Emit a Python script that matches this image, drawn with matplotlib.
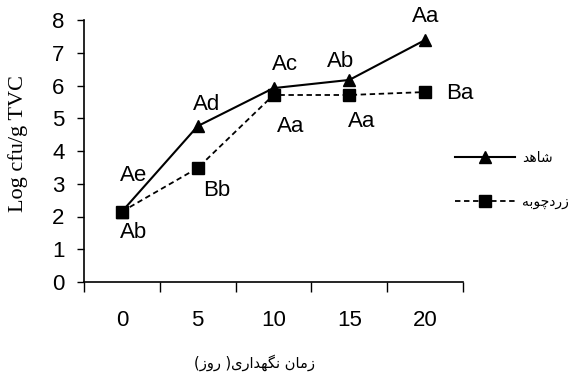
import matplotlib
matplotlib.use("Agg")
import matplotlib.pyplot as plt
import numpy as np

# روزهای نگهداری و مقادیر Log cfu/g TVC
days = ["0", "5", "10", "15", "20"]
control = [2.15, 4.76, 5.92, 6.17, 7.39]
turmeric = [2.15, 3.48, 5.71, 5.71, 5.80]
control_letters = ["Ae", "Ad", "Ac", "Ab", "Aa"]
turmeric_letters = ["Ab", "Bb", "Aa", "Aa", "Ba"]

# Persian labels in presentation forms (visual order) because matplotlib has no shaping
label_control = "\uFEAA\uFEEB\uFE8E\uFEB7"                      # شاهد
label_turmeric = "\uFEEA\uFE91\uFEEE\uFB7C\uFEA9\uFEAD\uFEAF"     # زردچوبه
xlabel = ("(\uFEAF\uFEED\uFEAD )" "\uFBFC\uFEAD\uFE8D\uFEAA\uFEEC\uFB95\uFEE7"
          " \uFEE5\uFE8E\uFEE3\uFEAF")                           # زمان نگهداری( روز)

plt.rcParams['font.family'] = ['Liberation Sans', 'DejaVu Sans']

fig = plt.figure(figsize=(5.79, 3.78), dpi=100)
ax = fig.add_axes([84/579, 96/378, (463-84)/579, (282-20)/378])

x = np.arange(len(days)) + 0.5
l1, = ax.plot(x, control, color="black", linewidth=1.5, linestyle="-",
              marker="^", markersize=9, label=label_control)
l2, = ax.plot(x, turmeric, color="black", linewidth=1.3, linestyle=(0, (3, 2)),
              marker="s", markersize=9, label=label_turmeric)

# letters of significance
off1 = [(12, 36), (9, 22), (12, 24), (-9, 18), (1, 23)]
off2 = [(12, -21), (19, -22), (17, -32), (12, -27), (35, -1)]
for i in range(len(days)):
    ax.annotate(control_letters[i], (x[i], control[i]), xytext=off1[i],
                textcoords="offset pixels", ha="center", va="center", fontsize=16)
    ax.annotate(turmeric_letters[i], (x[i], turmeric[i]), xytext=off2[i],
                textcoords="offset pixels", ha="center", va="center", fontsize=16)

ax.set_xlim(0, 5)
ax.set_ylim(0, 8)
ax.set_yticks(range(0, 9))
ax.tick_params(axis="y", labelsize=16, length=5, width=1, direction="out", pad=9)
ax.set_xticks(np.arange(0, 6))
ax.set_xticklabels([])
ax.set_xticks(x, minor=True)
ax.set_xticklabels(days, minor=True)
ax.tick_params(axis="x", which="major", length=7, width=1, direction="out")
ax.tick_params(axis="x", which="minor", length=0, labelsize=16, pad=20)

for s in ["top", "right"]:
    ax.spines[s].set_visible(False)
for s in ["left", "bottom"]:
    ax.spines[s].set_linewidth(1.2)

ax.set_ylabel("Log cfu/g TVC", family="Liberation Serif", fontsize=16,
              va="center")
ax.yaxis.set_label_coords((18 - 84) / 379, (282 - 143) / 262)
fig.text(255/579, 1 - 363/378, xlabel, family="DejaVu Sans",
         fontsize=10.5, ha="center", va="center")

fig.legend(handles=[l1, l2], loc="center left", bbox_to_anchor=(455/579, 1 - 180/378),
           frameon=False, handlelength=4.3, labelspacing=2.2, handletextpad=0.5,
           borderpad=0, borderaxespad=0, prop={"family": "DejaVu Sans", "size": 10})

fig.savefig("out.png", dpi=100)
